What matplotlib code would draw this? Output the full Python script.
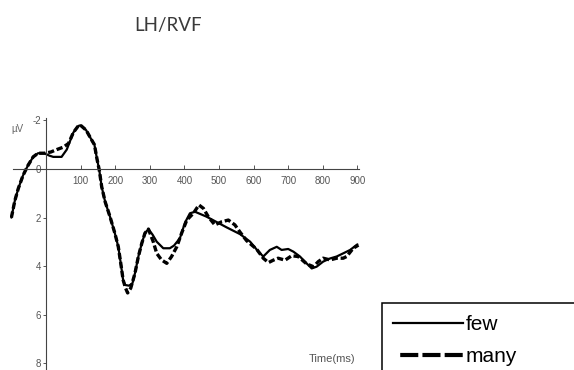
import matplotlib
matplotlib.use("Agg")
import matplotlib.pyplot as plt
from matplotlib.lines import Line2D
from matplotlib.patches import Rectangle

plt.rcParams['lines.scale_dashes'] = False

# ---- data ----
few_t = [-100, -90, -80, -66, -52, -37, -23, -5, 10, 21, 45, 60, 79, 93, 100, 116, 129, 140,
         148, 154, 161, 171, 185, 199, 209, 216, 223, 228, 240, 250, 257, 267, 277, 286, 296,
         308, 320, 339, 358, 370, 387, 402, 416, 431, 464, 522, 561, 590, 614, 628, 647, 667,
         681, 700, 715, 734, 753, 768, 782, 801, 821, 840, 859, 879, 900]
few_v = [2.0, 1.3, 0.8, 0.25, -0.15, -0.5, -0.65, -0.65, -0.55, -0.5, -0.5, -0.8, -1.5, -1.77,
         -1.8, -1.6, -1.27, -1.0, -0.37, 0.04, 0.73, 1.35, 1.96, 2.64, 3.2, 3.87, 4.57, 4.77,
         4.8, 4.7, 4.3, 3.6, 3.05, 2.64, 2.47, 2.7, 2.99, 3.26, 3.26, 3.15, 2.85, 2.2, 1.82,
         1.76, 1.96, 2.4, 2.68, 2.99, 3.4, 3.6, 3.33, 3.2, 3.33, 3.29, 3.4, 3.6, 3.88, 4.09,
         4.02, 3.81, 3.68, 3.6, 3.47, 3.33, 3.1]

many_t = [-100, -90, -80, -66, -52, -37, -23, -5, 14, 31, 50, 65, 79, 93, 100, 116, 129, 140,
          148, 154, 161, 171, 185, 199, 209, 216, 223, 230, 236, 245, 257, 267, 277, 286, 296,
          310, 320, 334, 349, 363, 378, 392, 407, 426, 442, 455, 469, 488, 508, 527, 546, 561,
          580, 609, 628, 643, 657, 671, 691, 710, 729, 753, 773, 787, 801, 821, 840, 859, 869,
          888, 903]
many_v = [2.0, 1.3, 0.8, 0.25, -0.15, -0.5, -0.65, -0.65, -0.7, -0.8, -0.9, -1.05, -1.5, -1.77,
          -1.8, -1.6, -1.27, -1.0, -0.37, 0.04, 0.73, 1.35, 1.96, 2.64, 3.2, 3.87, 4.57, 4.9,
          5.1, 4.9, 4.3, 3.6, 3.05, 2.64, 2.47, 2.99, 3.47, 3.74, 3.88, 3.6, 3.2, 2.64, 2.1,
          1.82, 1.48, 1.62, 1.96, 2.3, 2.17, 2.1, 2.3, 2.6, 2.95, 3.3, 3.67, 3.85, 3.75, 3.67,
          3.75, 3.57, 3.6, 3.9, 4.02, 3.81, 3.67, 3.74, 3.67, 3.67, 3.6, 3.26, 3.13]

x_ticks = [100, 200, 300, 400, 500, 600, 700, 800, 900]
y_ticks = [-2, 0, 2, 4, 6, 8]
series_labels = ["few", "many"]
title = "LH/RVF"

# ---- figure ----
W, H = 574, 370
fig = plt.figure(figsize=(W / 100, H / 100), dpi=100)
fig.patch.set_facecolor("white")

# axes placed in pixel coordinates
ax_l, ax_r, ax_t, ax_b = 10, 365, 118, 370
ax = fig.add_axes([ax_l / W, 1 - ax_b / H, (ax_r - ax_l) / W, (ax_b - ax_t) / H])
ax.set_facecolor("none")

ax.plot(few_t, few_v, color="black", lw=1.6, solid_capstyle="round")
ax.plot(many_t, many_v, color="black", lw=2.4, dashes=(4.5, 2.0))

ax.set_xlim(-104, 922)
ax.set_ylim(8.27, -2.1)

for s in ["top", "right"]:
    ax.spines[s].set_visible(False)
ax.spines["left"].set_position(("data", 0))
ax.spines["bottom"].set_position(("data", 0))
ax.spines["bottom"].set_bounds(-95, 905)
for s in ["left", "bottom"]:
    ax.spines[s].set_color("#444444")
    ax.spines[s].set_linewidth(0.8)

ax.set_xticks(x_ticks)
ax.set_xticklabels([str(t) for t in x_ticks])
ax.set_yticks(y_ticks)
ax.set_yticklabels([str(t) for t in y_ticks])
ax.tick_params(axis="x", direction="in", length=3, width=0.7, color="#555555",
               pad=5, labelsize=7, labelcolor="#555555")
ax.tick_params(axis="y", direction="out", length=2.5, width=0.7, color="#555555",
               pad=0.8, labelsize=7, labelcolor="#555555")
for lab in ax.get_xticklabels() + ax.get_yticklabels():
    lab.set_family("Liberation Sans")

# texts
fig.text(168 / W, 1 - 26 / H, title, ha="center", va="center", fontsize=13.5,
         family="Lato", color="#3a3a3a")
fig.text(17 / W, 1 - 129 / H, "µV", ha="center", va="center", fontsize=7,
         family="Liberation Sans", color="#666666")
fig.text(332 / W, 1 - 359 / H, "Time(ms)", ha="center", va="center", fontsize=8,
         family="Liberation Sans", color="#555555")

# legend box (cut off by the figure edge as in the reference)
fig.add_artist(Rectangle((382 / W, -0.2), 1.0, 0.2 + (H - 303) / H,
                         transform=fig.transFigure, fill=False,
                         edgecolor="black", lw=1.1, clip_on=False))
handles = [Line2D([], [], color="black", lw=1.6),
           Line2D([], [], color="black", lw=3.0,
                  linestyle=(45.0, (13.0, 3.0, 13.0, 3.0, 13.0, 5.2)))]
fig.legend(handles, series_labels, loc="upper left",
           bbox_to_anchor=(393 / W, 1 - 315 / H), frameon=False,
           prop={"family": "Liberation Sans", "size": 15},
           handlelength=3.35, handletextpad=0.12, labelspacing=0.62,
           borderpad=0, borderaxespad=0)

fig.savefig("out.png", dpi=100, facecolor="white")
